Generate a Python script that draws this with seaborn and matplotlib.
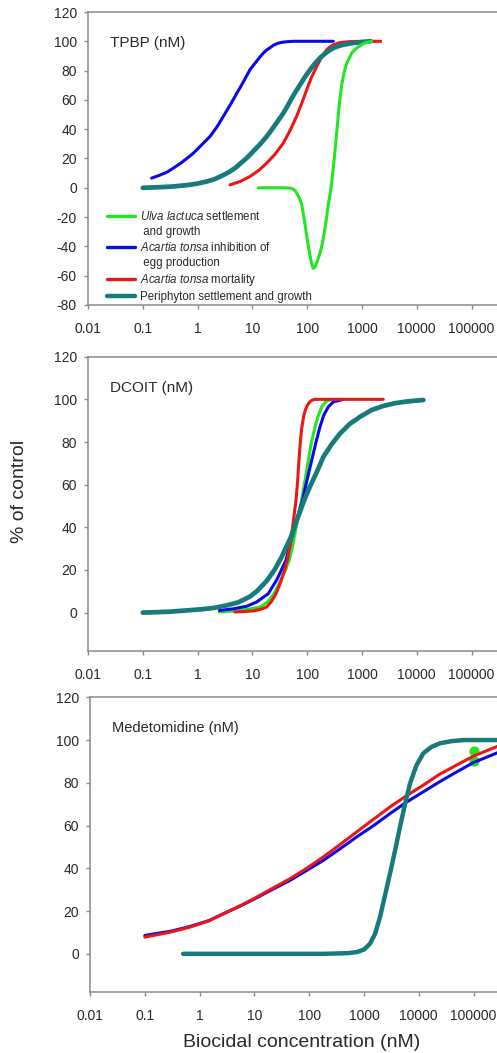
import numpy as np
import pandas as pd
import matplotlib
matplotlib.use('Agg')
import matplotlib.pyplot as plt
from matplotlib.lines import Line2D
import seaborn as sns

# --- data (concentration in nM, response in % of control) ---
# TPBP panel
tpbp_ulva_x = [12.8, 25, 40, 50, 56, 61, 65, 72, 79, 88, 98, 112, 122, 129, 140, 155, 170, 184,
               200, 215, 230, 243, 257, 270, 285, 300, 321, 350, 385, 430, 480, 526, 650, 800,
               1100, 1500]
tpbp_ulva_y = [0, 0, 0, -0.3, -1, -2.3, -4, -7, -11, -21, -33, -46, -52.5, -55, -54, -49.5, -45,
               -40, -33, -26, -18, -11, -6, -1, 6, 14, 25, 40, 57, 71, 80, 85, 92, 95.5, 98.8, 100]
tpbp_egg_x = [0.145, 0.2, 0.28, 0.36, 0.5, 0.65, 0.84, 1.15, 1.68, 2.3, 2.94, 4.0, 5.2, 6, 7.0,
              8, 9.0, 10.5, 12, 13.8, 15.8, 18, 21, 24, 27.7, 32, 38, 45, 56, 100, 300]
tpbp_egg_y = [6.6, 8.5, 10.8, 13.4, 17, 20.3, 23.7, 28.8, 35, 42, 48.7, 57, 64.6, 68.5, 73,
              77, 80.5, 83.8, 86.5, 89.4, 91.9, 94, 95.6, 97.2, 98.3, 99.1, 99.5, 99.8, 100, 100,
              100]
tpbp_mort_x = [3.9, 6, 9, 13, 18.2, 26, 36.7, 50, 64, 80, 98, 120, 149, 185, 227, 260, 300, 398,
               600, 1000, 2200]
tpbp_mort_y = [2.0, 4.3, 7.7, 11.8, 16.8, 23, 30.5, 40, 48.7, 58, 66.9, 75.5, 82.8, 89.5, 94.2,
               96.2, 97.6, 99.2, 99.8, 100, 100]
tpbp_peri_x = [0.1, 0.2, 0.36, 0.7, 1.0, 1.47, 2.0, 2.5, 3.1, 3.9, 5, 6, 7.5, 9, 11, 13, 15.5,
               18.2, 22, 26, 31, 36.7, 44, 52, 62, 74, 88, 105, 125, 149, 175, 210, 250, 300,
               370, 450, 560, 695, 1000, 1450]
tpbp_peri_y = [0, 0.4, 0.9, 2.0, 2.9, 4.3, 5.8, 7.4, 9.1, 11.1, 13.9, 16.5, 19.6, 22.5, 25.9,
               28.7, 31.9, 35, 39.1, 43, 47, 51, 56, 61, 65.8, 70.3, 74.8, 79, 82.8, 86.2, 89,
               91.5, 93.6, 95.4, 96.7, 97.6, 98.3, 98.8, 99.5, 100]

# DCOIT panel
dcoit_ulva_x = [2.5, 4.5, 8, 13.8, 19, 24.8, 32, 40, 47, 55, 64, 72, 79, 92, 105, 120, 139, 160,
                184, 220, 261, 400]
dcoit_ulva_y = [0.3, 0.7, 1.5, 2.6, 5, 8.9, 14.5, 19.8, 24.6, 32, 41, 48, 52.7, 62.5, 71.5, 80,
                87.1, 92.5, 96.5, 99, 99.8, 100]
dcoit_egg_x = [2.5, 4.5, 7.9, 12, 19.5, 28, 41, 50.6, 64, 82, 100, 121, 145, 171, 200, 243, 300, 456]
dcoit_egg_y = [1.0, 1.8, 3.0, 5, 8.9, 15.5, 24.6, 33.9, 43.5, 52.7, 62.5, 71.5, 80, 87.1, 92.5,
               96.5, 98.8, 100]
dcoit_mort_x = [4.8, 7, 10.4, 14, 18.2, 22, 27, 33, 38, 43.4, 50.6, 56, 62.5, 67, 70.8, 75, 79,
                86, 92, 98, 106, 115, 125, 139, 300, 1000, 2440]
dcoit_mort_y = [0.3, 0.5, 0.8, 1.5, 2.6, 5, 8.9, 14.5, 19.5, 24.6, 33.9, 43, 52.7, 62, 71.5, 80,
                86, 92, 94.8, 96.6, 98.1, 99.1, 99.7, 100, 100, 100, 100]
dcoit_peri_x = [0.1, 0.3, 1.1, 2, 3.4, 5.5, 9, 12, 18.2, 26, 34, 50.6, 64, 88, 112, 150, 197, 280,
                398, 600, 920, 1500, 2440, 4000, 6550, 13150]
dcoit_peri_y = [0, 0.4, 1.5, 2.2, 3.4, 4.8, 7.5, 10, 14.8, 20.5, 26, 35.5, 43, 52.7, 59, 66, 73,
                79, 84, 88.5, 91.8, 95, 96.9, 98.2, 99, 99.7]

# Medetomidine panel
med_x = [0.1, 0.3, 0.67, 1.5, 2.7, 5.5, 11, 22, 45, 90, 181, 360, 736, 1500, 2980, 6000, 12080,
         24000, 49000, 100000, 300000]
med_mort_y = [7.8, 10.2, 12.5, 15.5, 18.7, 22.5, 26.5, 30.8, 35.2, 40, 45.3, 51, 57, 63, 68.7,
              74, 78.9, 84, 88.3, 92.5, 97.5]
med_egg_y = [8.6, 10.6, 12.8, 15.6, 18.7, 22.3, 26.2, 30.3, 34.4, 39, 43.7, 49, 54.7, 60, 65.6,
             71, 75.8, 80.5, 85.1, 89.5, 94.5]
med_peri_x = [0.5, 5, 50, 181, 500, 736, 1000, 1285, 1600, 1960, 2400, 2980, 3700, 4540, 5600,
              6920, 9000, 12080, 17000, 24400, 40000, 64900, 300000]
med_peri_y = [0, 0, 0, 0, 0.3, 0.8, 2, 4.7, 9.5, 17.2, 27, 37.5, 48.5, 59.4, 70, 79.7, 88, 93.8,
              96.8, 98.5, 99.5, 100, 100]
med_ulva_x = [100000, 100000]
med_ulva_y = [90, 95]

x_ticks = [0.01, 0.1, 1, 10, 100, 1000, 10000, 100000]
x_ticklabels = ['0.01', '0.1', '1', '10', '100', '1000', '10000', '100000']

GREEN, BLUE, RED, TEAL = '#22e622', '#0a0ae6', '#ee1515', '#187a7a'
SPINE = '#8a8a8a'
TXT = '#2a2a2a'

sns.set_theme(style='ticks')
plt.rcParams['font.family'] = ['Liberation Sans', 'DejaVu Sans']
plt.rcParams['mathtext.fontset'] = 'custom'
plt.rcParams['mathtext.rm'] = 'Liberation Sans'
plt.rcParams['mathtext.it'] = 'Liberation Sans:italic'
plt.rcParams['axes.unicode_minus'] = False

W, H = 497, 1053
span = 8 * 54.8  # 0.01 .. 1e6, cropped at the right edge
fig = plt.figure(figsize=(W / 100, H / 100), dpi=100)
ax1 = fig.add_axes([88 / W, (H - 305) / H, span / W, 293 / H])
ax2 = fig.add_axes([88 / W, (H - 651) / H, span / W, 294.3 / H])
ax3 = fig.add_axes([90 / W, (H - 992.3) / H, span / W, 295 / H])


def curve(ax, x, y, color, lw=2.2):
    df = pd.DataFrame({'conc': x, 'pct': y})
    sns.lineplot(data=df, x='conc', y='pct', ax=ax, color=color, lw=lw, estimator=None,
                 sort=False, solid_capstyle='round', solid_joinstyle='round', legend=False)


# TPBP
curve(ax1, tpbp_egg_x, tpbp_egg_y, BLUE)
curve(ax1, tpbp_mort_x, tpbp_mort_y, RED)
curve(ax1, tpbp_peri_x, tpbp_peri_y, TEAL, lw=3.4)
curve(ax1, tpbp_ulva_x, tpbp_ulva_y, GREEN)

# DCOIT
curve(ax2, dcoit_ulva_x, dcoit_ulva_y, GREEN)
curve(ax2, dcoit_egg_x, dcoit_egg_y, BLUE)
curve(ax2, dcoit_mort_x, dcoit_mort_y, RED)
curve(ax2, dcoit_peri_x, dcoit_peri_y, TEAL, lw=3.4)

# Medetomidine
curve(ax3, med_x, med_egg_y, BLUE)
curve(ax3, med_x, med_mort_y, RED)
curve(ax3, med_peri_x, med_peri_y, TEAL, lw=3.2)
sns.scatterplot(x=med_ulva_x, y=med_ulva_y, ax=ax3, color=GREEN, s=55, linewidth=0, legend=False)

for ax, ylim, yt, title, fs in [
        (ax1, (-80, 120), range(-80, 121, 20), 'TPBP (nM)', 11),
        (ax2, (-18, 120), range(0, 121, 20), 'DCOIT (nM)', 11),
        (ax3, (-18, 120), range(0, 121, 20), 'Medetomidine (nM)', 10.5)]:
    ax.set_xscale('log')
    ax.set_xlim(0.01, 1e6)
    ax.set_ylim(*ylim)
    ax.set_xticks(x_ticks)
    ax.set_xticklabels(x_ticklabels)
    ax.xaxis.set_minor_locator(matplotlib.ticker.NullLocator())
    ax.set_yticks(list(yt))
    ax.set_xlabel('')
    ax.set_ylabel('')
    for s in ax.spines.values():
        s.set_color(SPINE)
        s.set_linewidth(1.1)
    ax.tick_params(axis='both', colors=SPINE, labelcolor=TXT, labelsize=10, length=3, width=1)
    ax.tick_params(axis='x', pad=9)
    ax.tick_params(axis='y', pad=5)
    ax.text(0.05, 0.895, title, transform=ax.transAxes, va='center', ha='left',
            fontsize=fs, color=TXT)

handles = [Line2D([], [], color=GREEN, lw=2.4), Line2D([], [], color='none'),
           Line2D([], [], color=BLUE, lw=2.4), Line2D([], [], color='none'),
           Line2D([], [], color=RED, lw=2.4), Line2D([], [], color=TEAL, lw=3.2)]
labels = [r'$\mathit{Ulva\ lactuca}$ settlement', ' and growth',
          r'$\mathit{Acartia\ tonsa}$ inhibition of', ' egg production',
          r'$\mathit{Acartia\ tonsa}$ mortality', 'Periphyton settlement and growth']
ax1.legend(handles=handles, labels=labels, loc='upper left', bbox_to_anchor=(0.043, 0.325),
           frameon=False, fontsize=8.3, handlelength=2.4, handletextpad=0.5, labelspacing=0.27,
           borderpad=0, borderaxespad=0, labelcolor=TXT)

fig.text(20 / W, 1 - 491.5 / H, '% of control', rotation=90, ha='center', va='center',
         fontsize=14, color=TXT)
fig.text(302 / W, 1 - 1047 / H, 'Biocidal concentration (nM)', ha='center', va='baseline',
         fontsize=14, color=TXT)

fig.savefig('out.png', dpi=100)
